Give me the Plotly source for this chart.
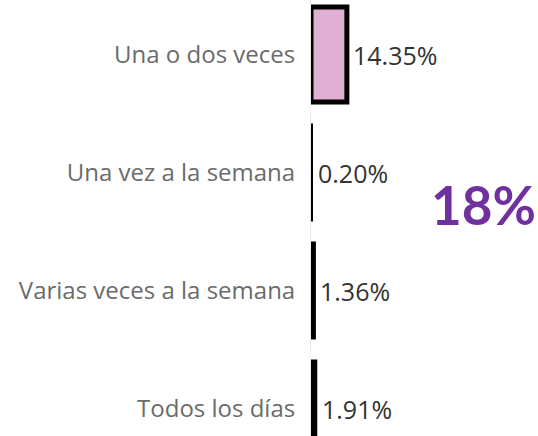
import plotly.graph_objects as go

categories = ["Una o dos veces", "Una vez a la semana", "Varias veces a la semana", "Todos los días"]
values = [14.35, 0.20, 1.36, 1.91]
value_labels = ["14.35%", "0.20%", "1.36%", "1.91%"]
total_label = "18%"

fills = ["#e0b0d2", "#000000", "#000000", "#000000"]
outline_widths = [5, 3, 3, 3]
positions = list(range(len(categories)))

fig = go.Figure()
fig.add_trace(go.Bar(
    y=positions,
    x=values,
    orientation="h",
    width=0.805,
    marker=dict(color=fills, line=dict(color="#000000", width=outline_widths)),
    hoverinfo="skip",
))

for pos, v, lab in zip(positions, values, value_labels):
    fig.add_annotation(
        x=v, y=pos, text=lab, showarrow=False,
        xanchor="left", yanchor="middle", xshift=4,
        font=dict(family="Open Sans", size=25, color="#333333"),
    )

fig.add_annotation(
    xref="paper", yref="paper", x=1.0, y=0.53, text=total_label,
    showarrow=False, xanchor="right", yanchor="middle",
    font=dict(family="Lato", size=53, color="#7030a0", weight="bold"),
)

fig.update_layout(
    width=538, height=436,
    margin=dict(l=311, r=0, t=0, b=0),
    plot_bgcolor="white", paper_bgcolor="white",
    showlegend=False,
    bargap=0.2,
)
fig.update_xaxes(
    range=[0, 227 / 2.5], showgrid=False, zeroline=False,
    showticklabels=False, showline=False,
)
fig.update_yaxes(
    range=[3.233, -0.462], tickmode="array", tickvals=positions, ticktext=categories,
    showgrid=False, zeroline=False, ticks="", ticklabelstandoff=10,
    showline=True, linecolor="#ececec", linewidth=1,
    tickfont=dict(family="Open Sans", size=24, color="#6b6b6b"),
)
fig.update_layout(yaxis_automargin=False)

fig.write_html("out.html")
